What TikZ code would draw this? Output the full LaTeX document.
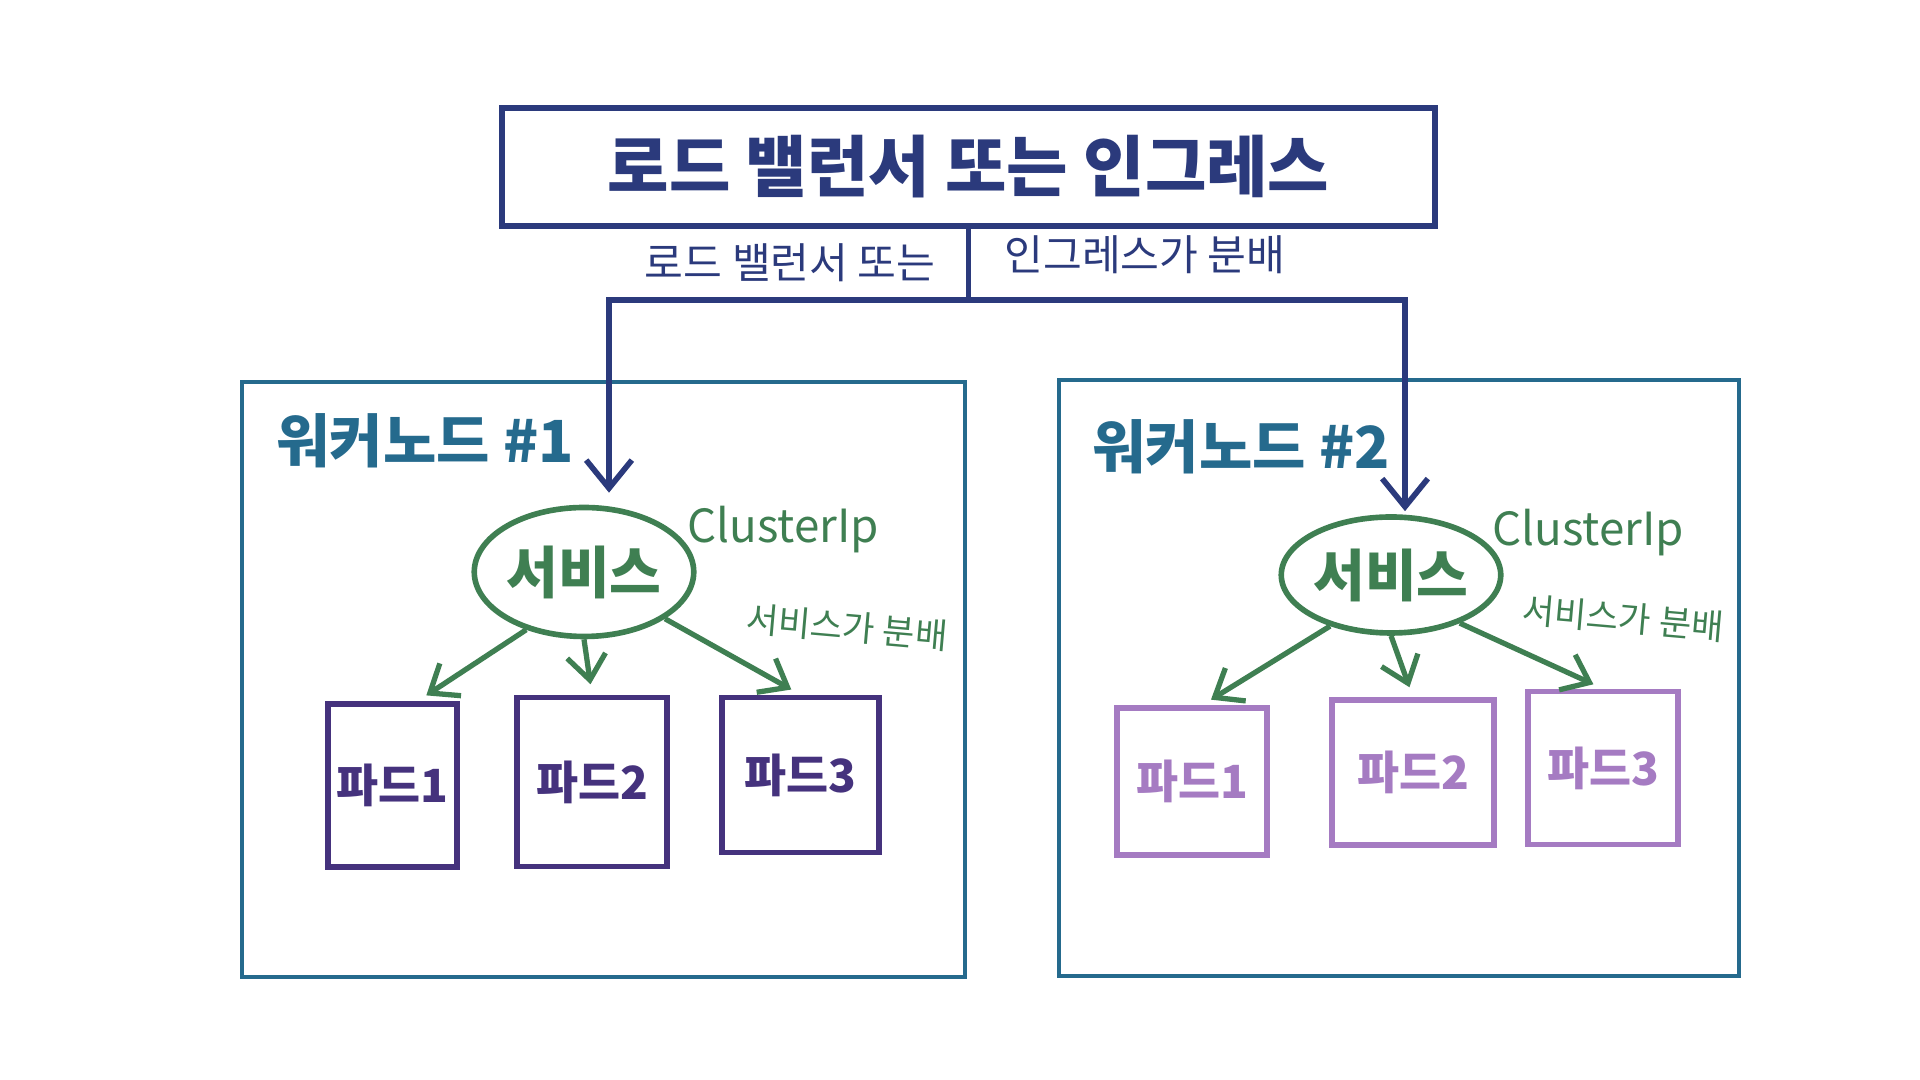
\documentclass[tikz,border=0pt]{standalone}
\usepackage{fontspec}
\setmainfont{Noto Sans CJK KR}
\usepackage{tikz}
\usetikzlibrary{arrows.meta, shapes.geometric}

\definecolor{lbblue}{HTML}{2B3A7C}
\definecolor{nodeteal}{HTML}{256A8D}
\definecolor{svcgreen}{HTML}{3F7F52}
\definecolor{poddark}{HTML}{45327D}
\definecolor{podlight}{HTML}{A57BC2}

\begin{document}
\begin{tikzpicture}[line width=1.6pt,
    podbox/.style={draw, rectangle, inner sep=0pt, font=\fontsize{13pt}{15pt}\selectfont\bfseries},
    svcshape/.style={draw=svcgreen, ellipse, inner sep=0pt, text=svcgreen, font=\fontsize{16pt}{18pt}\selectfont\bfseries},
    workerbox/.style={draw=nodeteal, rectangle, line width=1.4pt},
    svcarrow/.style={-{Straight Barb[length=7pt, width=11pt]}, svcgreen, line width=1.5pt, shorten >=3pt},
    lbarrow/.style={-{Straight Barb[length=8pt, width=13pt]}, lbblue, line width=1.6pt}]
        \useasboundingbox (0,0) rectangle (19.2,10.8);

        % Load balancer / ingress
        \node[draw=lbblue, line width=1.8pt, minimum width=9.33cm, minimum height=1.18cm, text=lbblue,
              font=\fontsize{19pt}{21pt}\selectfont\bfseries] (lb) at (9.685, 9.13) {로드 밸런서 또는 인그레스};
        \coordinate (split) at ([yshift=-0.71cm]lb.south);
        \node[anchor=east, text=lbblue, font=\fontsize{12pt}{14pt}\selectfont] (lbtxt1) at (9.50, 8.17) {로드 밸런서 또는};
        \node[anchor=west, text=lbblue, font=\fontsize{12pt}{14pt}\selectfont] (lbtxt2) at (9.90, 8.25) {인그레스가 분배};

        % Worker node 1
        \node[workerbox, minimum width=7.23cm, minimum height=5.95cm] (w1) at (6.035, 4.005) {};
        \node[anchor=west, text=nodeteal, font=\fontsize{16.5pt}{19pt}\selectfont\bfseries] (w1title) at (2.62, 6.39) {워커노드 \#1};
        \node[svcshape, minimum width=1.9cm, minimum height=1.29cm] (svc1) at (5.84, 5.08) {서비스};
        \node[text=svcgreen, font=\fontsize{13pt}{15pt}\selectfont] (cip1) at (7.83, 5.50) {ClusterIp};
        \node[text=svcgreen, rotate=-5, font=\fontsize{10pt}{12pt}\selectfont] (dist1) at (8.47, 4.53) {서비스가 분배};
        \node[podbox, draw=poddark, text=poddark, minimum width=1.29cm, minimum height=1.63cm] (p11) at (3.925, 2.945) {파드1};
        \node[podbox, draw=poddark, text=poddark, minimum width=1.50cm, minimum height=1.69cm] (p12) at (5.92, 2.98) {파드2};
        \node[podbox, draw=poddark, text=poddark, minimum width=1.57cm, minimum height=1.55cm] (p13) at (8.005, 3.05) {파드3};

        % Worker node 2
        \node[workerbox, minimum width=6.80cm, minimum height=5.96cm] (w2) at (13.99, 4.02) {};
        \node[anchor=west, text=nodeteal, font=\fontsize{16.5pt}{19pt}\selectfont\bfseries] (w2title) at (10.78, 6.33) {워커노드 \#2};
        \node[svcshape, minimum width=2.06cm, minimum height=1.16cm] (svc2) at (13.91, 5.05) {서비스};
        \node[text=svcgreen, font=\fontsize{13pt}{15pt}\selectfont] (cip2) at (15.88, 5.47) {ClusterIp};
        \node[text=svcgreen, rotate=-5, font=\fontsize{10pt}{12pt}\selectfont] (dist2) at (16.23, 4.62) {서비스가 분배};
        \node[podbox, draw=podlight, text=podlight, minimum width=1.50cm, minimum height=1.47cm] (p21) at (11.92, 2.985) {파드1};
        \node[podbox, draw=podlight, text=podlight, minimum width=1.62cm, minimum height=1.45cm] (p22) at (14.13, 3.075) {파드2};
        \node[podbox, draw=podlight, text=podlight, minimum width=1.50cm, minimum height=1.53cm] (p23) at (16.03, 3.12) {파드3};

        % Traffic from the load balancer
        \draw[lbblue, line width=1.6pt] (lb.south) -- (split);
        \draw[lbarrow] (split) -| ([xshift=0.25cm, yshift=0.12cm]svc1.north);
        \draw[lbarrow] (split) -| ([xshift=0.14cm, yshift=0.03cm]svc2.north);

        % Service spreads to pods
        \draw[svcarrow] (svc1.-135) -- ([xshift=0.25cm]p11.north);
        \draw[svcarrow] (svc1.south) -- (p12.north);
        \draw[svcarrow] (svc1.-30) -- (p13.north);
        \draw[svcarrow] (svc2.-140) -- ([xshift=0.1cm]p21.north);
        \draw[svcarrow] (svc2.south) -- (p22.north);
        \draw[svcarrow] (svc2.-35) -- (p23.north);
\end{tikzpicture}
\end{document}
